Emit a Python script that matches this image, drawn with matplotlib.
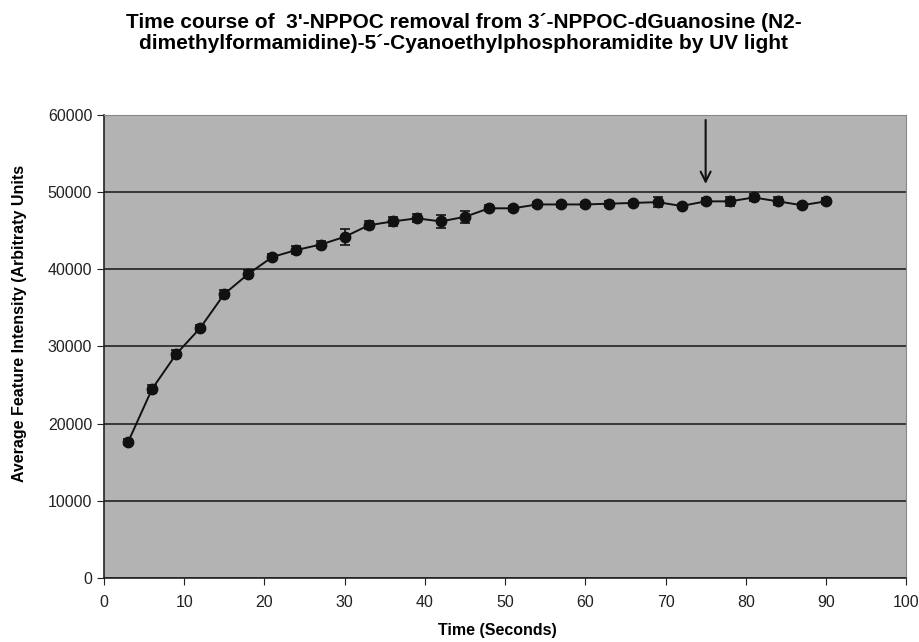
import numpy as np
import matplotlib
matplotlib.use("Agg")
import matplotlib.pyplot as plt

plt.rcParams['font.family'] = ['Liberation Sans', 'DejaVu Sans']

# data
time_s = [3, 6, 9, 12, 15, 18, 21, 24, 27, 30, 33, 36, 39, 42, 45,
          48, 51, 54, 57, 60, 63, 66, 69, 72, 75, 78, 81, 84, 87, 90]
intensity = [17600, 24500, 29000, 32400, 36800, 39400, 41600, 42500, 43200, 44200,
             45700, 46200, 46600, 46200, 46800, 47900, 47900, 48400, 48400, 48400,
             48500, 48600, 48700, 48200, 48800, 48800, 49300, 48800, 48300, 48800]
err = [400, 500, 500, 400, 500, 500, 400, 500, 500, 1000,
       500, 600, 500, 800, 800, 400, 300, 300, 300, 300,
       300, 300, 600, 300, 400, 600, 400, 500, 300, 400]
arrow_x = 75

fig = plt.figure(figsize=(9.2, 6.42), dpi=100)
ax = fig.add_axes([0.113, 0.0997, 0.872, 0.7213])
ax.set_facecolor('#b3b3b3')

ax.errorbar(time_s, intensity, yerr=err, color='#111111', marker='o', markersize=7.5,
            linewidth=1.4, capsize=3.5, elinewidth=1.2, capthick=1.2, zorder=3)

ax.set_xlim(0, 100)
ax.set_ylim(0, 60000)
ax.set_xticks(np.arange(0, 101, 10))
ax.set_yticks(np.arange(0, 60001, 10000))
ax.yaxis.grid(True, color='#222222', linewidth=1.2)
ax.set_axisbelow(True)

for s in ['top', 'right']:
    ax.spines[s].set_color('#888888')
for s in ['left', 'bottom']:
    ax.spines[s].set_color('#222222')
    ax.spines[s].set_linewidth(1.2)
ax.tick_params(labelsize=11.5, length=5, direction='out', colors='#222222')
ax.tick_params(axis='x', pad=7)

ax.annotate('', xy=(arrow_x, 50700), xytext=(arrow_x, 59700),
            arrowprops=dict(arrowstyle='->', color='#111111', lw=1.5,
                            mutation_scale=18))

ax.set_xlabel('Time (Seconds)', fontsize=11.5, fontweight='bold')
ax.xaxis.set_label_coords(0.49, -0.098)
ax.set_ylabel('Average Feature Intensity (Arbitraty Units', fontsize=11.5,
              fontweight='bold')
ax.yaxis.set_label_coords(-0.096, 0.55)

fig.text(0.504, 0.98, "Time course of  3'-NPPOC removal from 3\u00b4-NPPOC-dGuanosine (N2-\n"
         "dimethylformamidine)-5\u00b4-Cyanoethylphosphoramidite by UV light",
         ha='center', va='top', fontsize=15, fontweight='bold', linespacing=1.15)

fig.savefig('out.png', dpi=100)
